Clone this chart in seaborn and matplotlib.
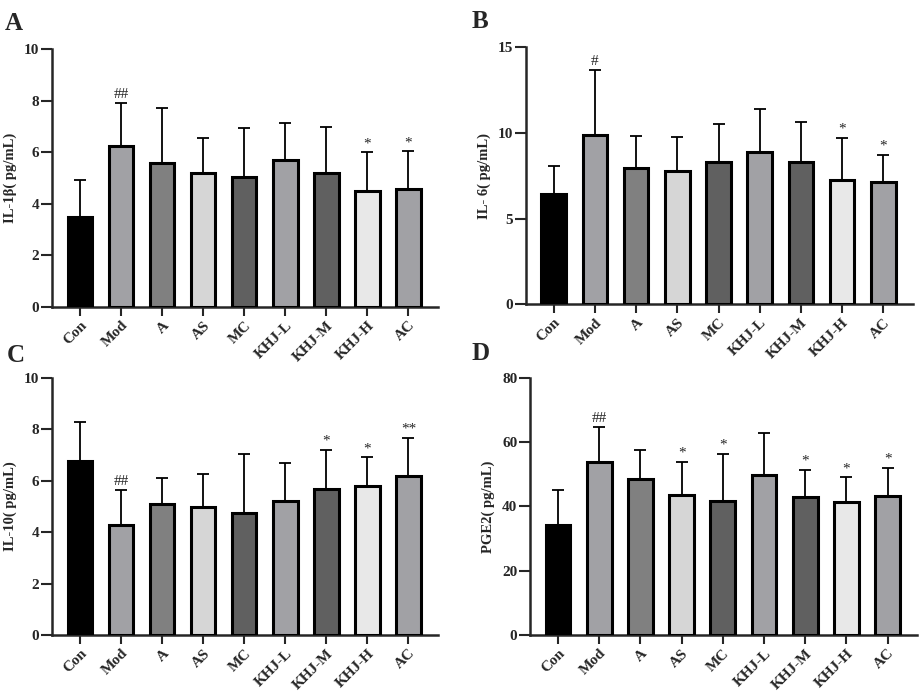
import numpy as np
import pandas as pd
import seaborn as sns
import matplotlib.pyplot as plt

groups = ["Con", "Mod", "A", "AS", "MC", "KHJ-L", "KHJ-M", "KHJ-H", "AC"]
bar_colors = ["#000000", "#a1a1a5", "#808080", "#d6d6d6", "#606060",
              "#a1a1a5", "#606060", "#e8e8e8", "#a1a1a5"]

# IL-1β
il1b_mean = [3.47, 6.24, 5.60, 5.21, 5.02, 5.68, 5.21, 4.49, 4.59]
il1b_sd = [1.45, 1.65, 2.10, 1.35, 1.90, 1.46, 1.75, 1.51, 1.45]
il1b_sig = ["", "##", "", "", "", "", "", "*", "*"]

# IL-6
il6_mean = [6.44, 9.86, 7.98, 7.78, 8.31, 8.91, 8.31, 7.26, 7.12]
il6_sd = [1.65, 3.82, 1.84, 1.97, 2.23, 2.49, 2.35, 2.45, 1.62]
il6_sig = ["", "#", "", "", "", "", "", "*", "*"]

# IL-10
il10_mean = [6.77, 4.26, 5.09, 4.96, 4.73, 5.22, 5.66, 5.79, 6.18]
il10_sd = [1.52, 1.37, 1.02, 1.31, 2.30, 1.48, 1.53, 1.11, 1.48]
il10_sig = ["", "##", "", "", "", "", "*", "*", "**"]

# PGE2
pge2_mean = [34.1, 53.7, 48.4, 43.6, 41.8, 49.7, 42.8, 41.5, 43.3]
pge2_sd = [11.0, 11.1, 9.2, 10.3, 14.5, 13.0, 8.6, 7.5, 8.6]
pge2_sig = ["", "##", "", "*", "*", "", "*", "*", "*"]

sns.set_style("ticks")
plt.rcParams["font.family"] = ["Liberation Serif", "DejaVu Serif"]
plt.rcParams["font.weight"] = "bold"

fig = plt.figure(figsize=(9.2, 6.94), dpi=100)

panels = [
    ("A", il1b_mean, il1b_sd, il1b_sig, "IL-1β( pg/mL)", [0, 2, 4, 6, 8, 10], 10,
     [52 / 920, 1 - 307 / 694, 386 / 920, 258 / 694]),
    ("B", il6_mean, il6_sd, il6_sig, "IL- 6( pg/mL)", [0, 5, 10, 15], 15,
     [525.7 / 920, 1 - 304.3 / 694, 387.3 / 920, 257 / 694]),
    ("C", il10_mean, il10_sd, il10_sig, "IL-10( pg/mL)", [0, 2, 4, 6, 8, 10], 10,
     [52 / 920, 1 - 635 / 694, 386 / 920, 257.3 / 694]),
    ("D", pge2_mean, pge2_sd, pge2_sig, "PGE2( pg/mL)", [0, 20, 40, 60, 80], 80,
     [530 / 920, 1 - 635 / 694, 387.3 / 920, 257.3 / 694]),
]
label_pos = {"A": (5, 30), "B": (472, 28), "C": (7, 362), "D": (472, 360)}

for letter, mean, sd, sig, ylab, yticks, ymax, pos in panels:
    ax = fig.add_axes(pos)
    df = pd.DataFrame({"group": groups, "value": mean})
    sns.barplot(data=df, x="group", y="value", hue="group", palette=bar_colors,
                legend=False, width=0.6, edgecolor="black", linewidth=2.2,
                ax=ax, zorder=3)
    ax.errorbar(np.arange(len(groups)), mean, yerr=[np.zeros(len(sd)), sd],
                fmt="none", ecolor="black", elinewidth=1.3, capsize=4.5,
                capthick=1.3, zorder=2)
    for i, s in enumerate(sig):
        if s:
            ax.annotate(s, (i, mean[i] + sd[i]), xytext=(0, 1.5),
                        textcoords="offset points", ha="center", va="bottom",
                        fontsize=11, fontweight="normal")
    ax.set_xlim(-0.68, 8.72)
    ax.set_ylim(0, ymax)
    ax.set_yticks(yticks)
    ax.set_xlabel("")
    ax.set_ylabel(ylab, fontsize=10.5, fontweight="bold")
    ax.yaxis.set_label_coords(-0.09, 0.5)
    ax.tick_params(axis="y", length=8, width=1.5, labelsize=11, pad=1)
    ax.tick_params(axis="x", length=6.5, width=1.5, labelsize=11, pad=2)
    plt.setp(ax.get_xticklabels(), rotation=45, ha="right",
             rotation_mode="anchor", fontweight="bold")
    plt.setp(ax.get_yticklabels(), fontweight="bold")
    for side in ["top", "right"]:
        ax.spines[side].set_visible(False)
    for side in ["left", "bottom"]:
        ax.spines[side].set_linewidth(1.8)
    fig.text(label_pos[letter][0] / 920, 1 - label_pos[letter][1] / 694, letter,
             fontsize=18, fontweight="bold", ha="left", va="baseline")

fig.savefig("out.png", dpi=100)
